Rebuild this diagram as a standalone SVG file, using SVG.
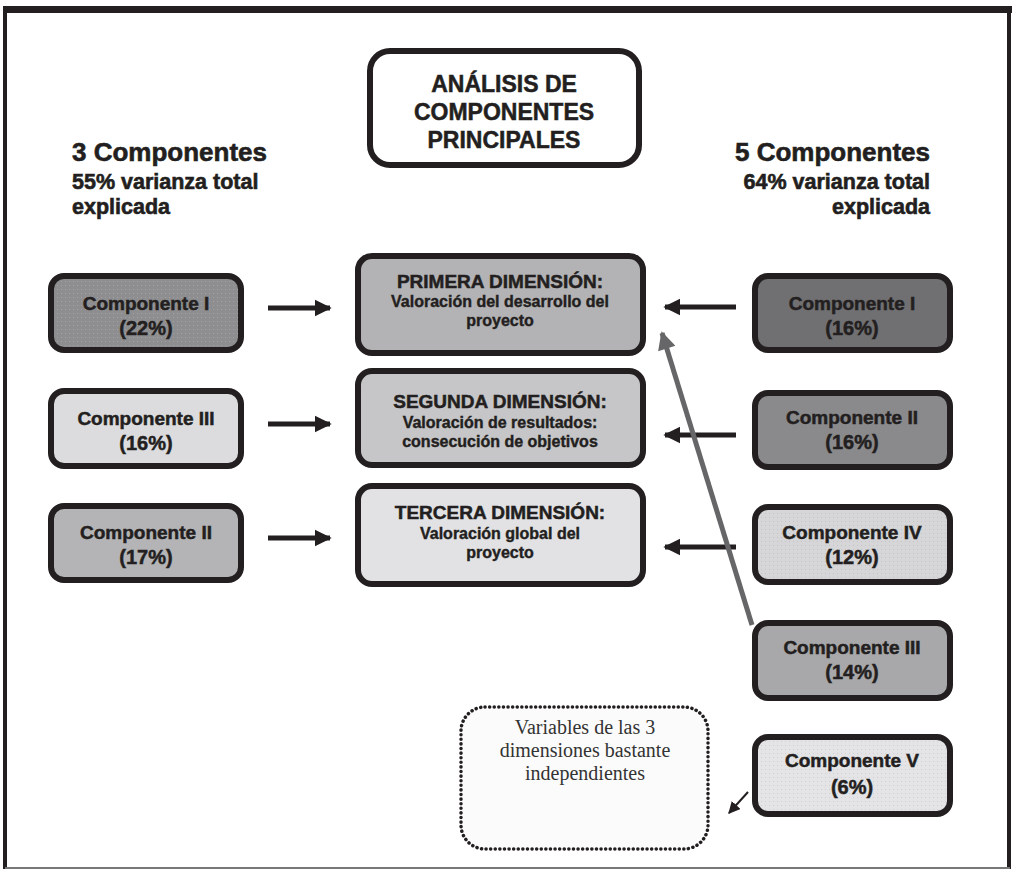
<svg xmlns="http://www.w3.org/2000/svg" width="1013" height="870" viewBox="0 0 1013 870">
<defs>
<style>
.box{stroke:#231f20;stroke-width:6;}
.t{font-family:"Liberation Sans",Arial,sans-serif;font-weight:bold;fill:#231f20;text-anchor:middle;stroke:#231f20;stroke-width:0.5;}
.c{font-size:19px;}
.p{font-size:20px;}
.dt{font-size:19px;}
.ds{font-size:16px;stroke-width:0.4;}
.h{font-family:"Liberation Sans",Arial,sans-serif;font-weight:bold;fill:#231f20;stroke:#231f20;stroke-width:0.6;}
.s{font-family:"Liberation Serif","Times New Roman",serif;font-size:20px;fill:#333;text-anchor:middle;}
.arr{stroke:#231f20;stroke-width:5;fill:none;}
</style>
<pattern id="dotsA" width="4" height="4" patternUnits="userSpaceOnUse">
<rect width="4" height="4" fill="#8e8e90"/>
<rect x="1" y="1" width="1" height="1" fill="#a2a2a4"/>
</pattern>
<pattern id="dotsB" width="4" height="4" patternUnits="userSpaceOnUse">
<rect width="4" height="4" fill="#d6d6d8"/>
<rect x="1" y="1" width="1" height="1" fill="#c4c4c6"/>
</pattern>
<pattern id="dotsC" width="4" height="4" patternUnits="userSpaceOnUse">
<rect width="4" height="4" fill="#e4e4e6"/>
<rect x="1" y="1" width="1" height="1" fill="#d0d0d2"/>
</pattern>
<marker id="ah" viewBox="0 0 10 10" refX="9" refY="5" markerWidth="17" markerHeight="18" markerUnits="userSpaceOnUse" orient="auto">
<path d="M0,0 L10,5 L0,10 Z" fill="#231f20"/>
</marker>
<marker id="ahg" viewBox="0 0 10 10" refX="9" refY="5" markerWidth="20" markerHeight="18" markerUnits="userSpaceOnUse" orient="auto">
<path d="M0,0 L10,5 L0,10 Z" fill="#666668"/>
</marker>
<marker id="ahs" viewBox="0 0 10 10" refX="9" refY="5" markerWidth="12" markerHeight="12" markerUnits="userSpaceOnUse" orient="auto">
<path d="M0,0 L10,5 L0,10 Z" fill="#231f20"/>
</marker>
</defs>
<rect width="1013" height="870" fill="#ffffff"/>
<g id="frame">
<line x1="3" y1="9.5" x2="1012" y2="9.5" stroke="#231f20" stroke-width="7"/>
<line x1="5" y1="9" x2="5" y2="869" stroke="#231f20" stroke-width="4"/>
<line x1="1009" y1="9" x2="1009" y2="869" stroke="#231f20" stroke-width="4"/>
<line x1="5" y1="868" x2="1010" y2="868" stroke="#777777" stroke-width="2"/>
</g>
<g id="title">
<rect class="box" x="370" y="51" width="269" height="114" rx="20" fill="#ffffff"/>
<text class="t" x="504" y="92" style="font-size:23px">ANÁLISIS DE</text>
<text class="t" x="504" y="120" style="font-size:23px">COMPONENTES</text>
<text class="t" x="504" y="148" style="font-size:23px">PRINCIPALES</text>
</g>
<g id="heading-left">
<text class="h" x="72" y="161" style="font-size:26px">3 Componentes</text>
<text class="h" x="72" y="189" style="font-size:21.5px">55% varianza total</text>
<text class="h" x="72" y="214" style="font-size:21.5px">explicada</text>
</g>
<g id="heading-right">
<text class="h" x="930" y="161" style="font-size:26px;text-anchor:end">5 Componentes</text>
<text class="h" x="930" y="189" style="font-size:21.5px;text-anchor:end">64% varianza total</text>
<text class="h" x="930" y="214" style="font-size:21.5px;text-anchor:end">explicada</text>
</g>
<g id="left-comp-1">
<rect class="box" x="51" y="276" width="190" height="74" rx="13" fill="url(#dotsA)"/>
<text class="t c" x="146" y="310">Componente I</text>
<text class="t p" x="146" y="335">(22%)</text>
</g>
<g id="left-comp-3">
<rect class="box" x="51" y="391" width="190" height="75" rx="13" fill="#dcdcde"/>
<text class="t c" x="146" y="425">Componente III</text>
<text class="t p" x="146" y="450">(16%)</text>
</g>
<g id="left-comp-2">
<rect class="box" x="51" y="506" width="190" height="74" rx="13" fill="#b4b4b6"/>
<text class="t c" x="146" y="539">Componente II</text>
<text class="t p" x="146" y="564">(17%)</text>
</g>
<g id="dim-1">
<rect class="box" x="358" y="256" width="285" height="97" rx="14" fill="#b3b3b5"/>
<text class="t dt" x="500" y="288">PRIMERA DIMENSIÓN:</text>
<text class="t ds" x="500" y="307">Valoración del desarrollo del</text>
<text class="t ds" x="500" y="326">proyecto</text>
</g>
<g id="dim-2">
<rect class="box" x="358" y="371" width="285" height="94" rx="14" fill="#c6c6c8"/>
<text class="t dt" x="500" y="408">SEGUNDA DIMENSIÓN:</text>
<text class="t ds" x="500" y="428">Valoración de resultados:</text>
<text class="t ds" x="500" y="447">consecución de objetivos</text>
</g>
<g id="dim-3">
<rect class="box" x="358" y="486" width="285" height="98" rx="14" fill="#e2e2e4"/>
<text class="t dt" x="500" y="519">TERCERA DIMENSIÓN:</text>
<text class="t ds" x="500" y="539">Valoración global del</text>
<text class="t ds" x="500" y="558">proyecto</text>
</g>
<g id="right-comp-1">
<rect class="box" x="755" y="276" width="195" height="74" rx="13" fill="#707072"/>
<text class="t c" x="852" y="310">Componente I</text>
<text class="t p" x="852" y="335">(16%)</text>
</g>
<g id="right-comp-2">
<rect class="box" x="755" y="393" width="195" height="74" rx="13" fill="#8a8a8c"/>
<text class="t c" x="852" y="424">Componente II</text>
<text class="t p" x="852" y="449">(16%)</text>
</g>
<g id="right-comp-4">
<rect class="box" x="755" y="507" width="195" height="75" rx="13" fill="url(#dotsB)"/>
<text class="t c" x="852" y="539">Componente IV</text>
<text class="t p" x="852" y="564">(12%)</text>
</g>
<g id="right-comp-3">
<rect class="box" x="755" y="623" width="195" height="75" rx="13" fill="#a8a8aa"/>
<text class="t c" x="852" y="654">Componente III</text>
<text class="t p" x="852" y="679">(14%)</text>
</g>
<g id="right-comp-5">
<rect class="box" x="755" y="737" width="195" height="77" rx="13" fill="url(#dotsC)"/>
<text class="t c" x="852" y="767">Componente V</text>
<text class="t p" x="852" y="794">(6%)</text>
</g>
<g id="note">
<rect x="461" y="707" width="247" height="142" rx="24" fill="#fbfbfb" stroke="#231f20" stroke-width="3.5" stroke-dasharray="0.1 4.5" stroke-linecap="round"/>
<text class="s" x="585" y="734">Variables de las 3</text>
<text class="s" x="585" y="757">dimensiones bastante</text>
<text class="s" x="585" y="780">independientes</text>
</g>
<g id="connectors">
<line class="arr" x1="268" y1="308" x2="330" y2="308" marker-end="url(#ah)"/>
<line class="arr" x1="268" y1="424" x2="330" y2="424" marker-end="url(#ah)"/>
<line class="arr" x1="268" y1="538" x2="330" y2="538" marker-end="url(#ah)"/>
<line class="arr" x1="736" y1="307" x2="665" y2="307" marker-end="url(#ah)"/>
<line class="arr" x1="736" y1="435" x2="665" y2="435" marker-end="url(#ah)"/>
<line class="arr" x1="736" y1="547" x2="665" y2="547" marker-end="url(#ah)"/>
<line x1="752" y1="625" x2="662" y2="333" stroke="#666668" stroke-width="5" marker-end="url(#ahg)"/>
<line x1="748" y1="792" x2="729" y2="813" stroke="#231f20" stroke-width="2" marker-end="url(#ahs)"/>
</g>
</svg>
